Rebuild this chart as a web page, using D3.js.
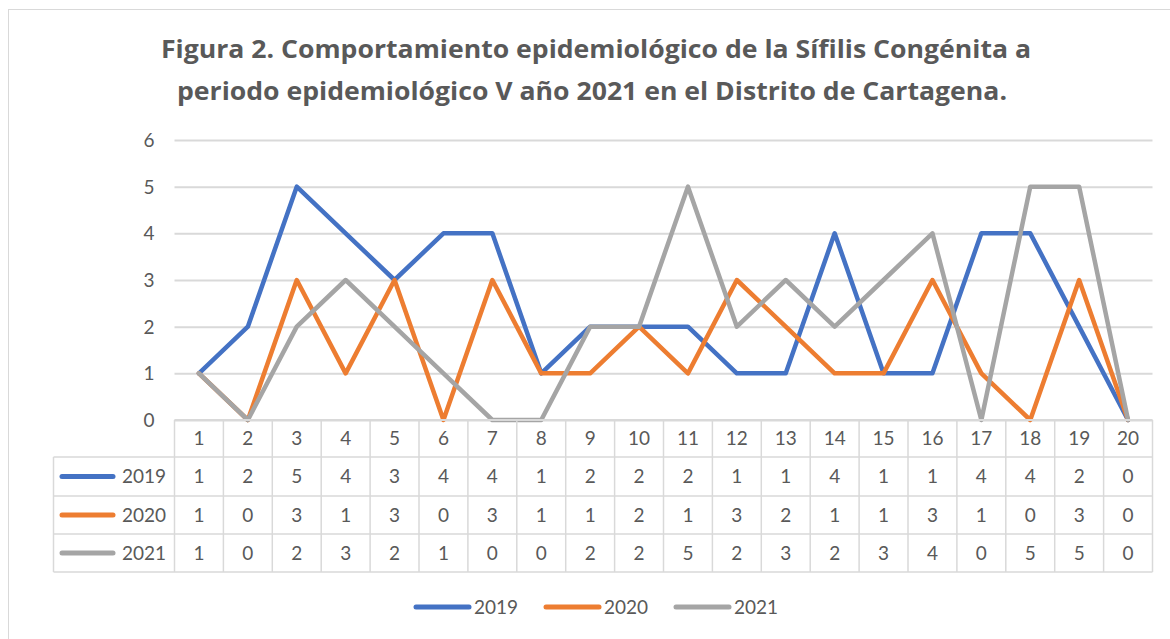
<!DOCTYPE html>
<html>
<head>
<meta charset="utf-8">
<script src="https://cdn.jsdelivr.net/npm/d3@7"></script>
<style>
  body { margin: 0; background: #fff; }
  text { font-family: Lato, "Open Sans", sans-serif; fill: #595959; }
</style>
</head>
<body>
<div id="chart"></div>
<script>
// data
var periods = ["1","2","3","4","5","6","7","8","9","10","11","12","13","14","15","16","17","18","19","20"];
var years = ["2019", "2020", "2021"];
var v2019 = [1,2,5,4,3,4,4,1,2,2,2,1,1,4,1,1,4,4,2,0];
var v2020 = [1,0,3,1,3,0,3,1,1,2,1,3,2,1,1,3,1,0,3,0];
var v2021 = [1,0,2,3,2,1,0,0,2,2,5,2,3,2,3,4,0,5,5,0];
var yTicks = [0,1,2,3,4,5,6];
var colors = ["#4472C4", "#ED7D31", "#A5A5A5"];

var series = [
  { name: years[0], values: v2019, color: colors[0] },
  { name: years[1], values: v2020, color: colors[1] },
  { name: years[2], values: v2021, color: colors[2] }
];

var width = 1170, height = 639;
var plot = { left: 174.5, right: 1152.5, top: 140, bottom: 420 };
var rowH = [37, 39, 38, 38];
var gridColor = "#d9d9d9";

var svg = d3.select("#chart").append("svg")
  .attr("width", width)
  .attr("height", height);

// chart border (runs past the bottom/right edges)
svg.append("rect")
  .attr("x", 8.5).attr("y", 9.5)
  .attr("width", 1200).attr("height", 700)
  .attr("fill", "none")
  .attr("stroke", gridColor)
  .attr("stroke-width", 1);

// title
var title = svg.append("text")
  .attr("text-anchor", "middle")
  .style("font-family", "'Open Sans', sans-serif")
  .style("font-size", "25px")
  .style("font-weight", "bold");
title.append("tspan").attr("x", 596).attr("y", 58)
  .attr("textLength", 870).attr("lengthAdjust", "spacingAndGlyphs")
  .text("Figura 2. Comportamiento epidemiológico de la Sífilis Congénita a");
title.append("tspan").attr("x", 592).attr("y", 100)
  .attr("textLength", 830).attr("lengthAdjust", "spacingAndGlyphs")
  .text("periodo epidemiológico V año 2021 en el Distrito de Cartagena.");

var x = d3.scaleBand()
  .domain(periods)
  .range([plot.left, plot.right]);

var y = d3.scaleLinear()
  .domain([0, 6])
  .range([plot.bottom, plot.top]);

// horizontal gridlines + y labels
var yAxis = d3.axisLeft(y)
  .tickValues(yTicks)
  .tickSize(-(plot.right - plot.left))
  .tickPadding(20)
  .tickFormat(d3.format("d"));

var gy = svg.append("g")
  .attr("transform", `translate(${plot.left},0)`)
  .call(yAxis);
gy.select(".domain").remove();
gy.selectAll(".tick line").attr("stroke", gridColor).attr("stroke-width", 2);
gy.selectAll(".tick text")
  .style("font-size", "19px")
  .attr("fill", "#595959")
  .attr("dy", "0.35em");

// lines
var line = d3.line()
  .x((d, i) => x(periods[i]) + x.bandwidth() / 2)
  .y(d => y(d));

svg.append("g").selectAll("path")
  .data(series)
  .enter()
  .append("path")
  .attr("d", d => line(d.values))
  .attr("fill", "none")
  .attr("stroke", d => d.color)
  .attr("stroke-width", 4.5)
  .attr("stroke-linejoin", "round")
  .attr("stroke-linecap", "round");

// data table
var tableTop = plot.bottom;
var rowY = [tableTop];
rowH.forEach(h => rowY.push(rowY[rowY.length - 1] + h));
var labelLeft = 53.5;

var table = svg.append("g");

// horizontal table lines
rowY.forEach(function (yy, i) {
  table.append("line")
    .attr("x1", i === 0 ? plot.left : labelLeft)
    .attr("x2", plot.right)
    .attr("y1", yy).attr("y2", yy)
    .attr("stroke", gridColor)
    .attr("stroke-width", i === 0 ? 2 : 1.5);
});

// vertical table lines
var colEdges = periods.map(p => x(p)).concat([plot.right]);
colEdges.forEach(function (xx) {
  table.append("line")
    .attr("x1", xx).attr("x2", xx)
    .attr("y1", rowY[0]).attr("y2", rowY[4])
    .attr("stroke", gridColor).attr("stroke-width", 1.5);
});
table.append("line")
  .attr("x1", labelLeft).attr("x2", labelLeft)
  .attr("y1", rowY[1]).attr("y2", rowY[4])
  .attr("stroke", gridColor).attr("stroke-width", 1.5);

// header row
table.selectAll("text.hdr")
  .data(periods)
  .enter()
  .append("text")
  .attr("class", "hdr")
  .attr("x", d => x(d) + x.bandwidth() / 2)
  .attr("y", (rowY[0] + rowY[1]) / 2)
  .attr("dy", "0.35em")
  .attr("text-anchor", "middle")
  .style("font-size", "19px")
  .text(d => d);

// series rows
series.forEach(function (s, si) {
  var cy = (rowY[si + 1] + rowY[si + 2]) / 2;
  table.append("line")
    .attr("x1", 62).attr("x2", 113)
    .attr("y1", cy).attr("y2", cy)
    .attr("stroke", s.color)
    .attr("stroke-width", 5)
    .attr("stroke-linecap", "round");
  table.append("text")
    .attr("x", 166).attr("y", cy)
    .attr("dy", "0.35em")
    .attr("text-anchor", "end")
    .style("font-size", "19px")
    .text(s.name);
  table.selectAll(null)
    .data(s.values)
    .enter()
    .append("text")
    .attr("x", (d, i) => x(periods[i]) + x.bandwidth() / 2)
    .attr("y", cy)
    .attr("dy", "0.35em")
    .attr("text-anchor", "middle")
    .style("font-size", "19px")
    .text(d => d);
});

// legend
var legendX = [416, 546, 676];
var legend = svg.append("g");
series.forEach(function (s, i) {
  legend.append("line")
    .attr("x1", legendX[i]).attr("x2", legendX[i] + 53)
    .attr("y1", 607).attr("y2", 607)
    .attr("stroke", s.color)
    .attr("stroke-width", 5)
    .attr("stroke-linecap", "round");
  legend.append("text")
    .attr("x", legendX[i] + 58).attr("y", 607)
    .attr("dy", "0.35em")
    .style("font-size", "19px")
    .text(s.name);
});
</script>
</body>
</html>
